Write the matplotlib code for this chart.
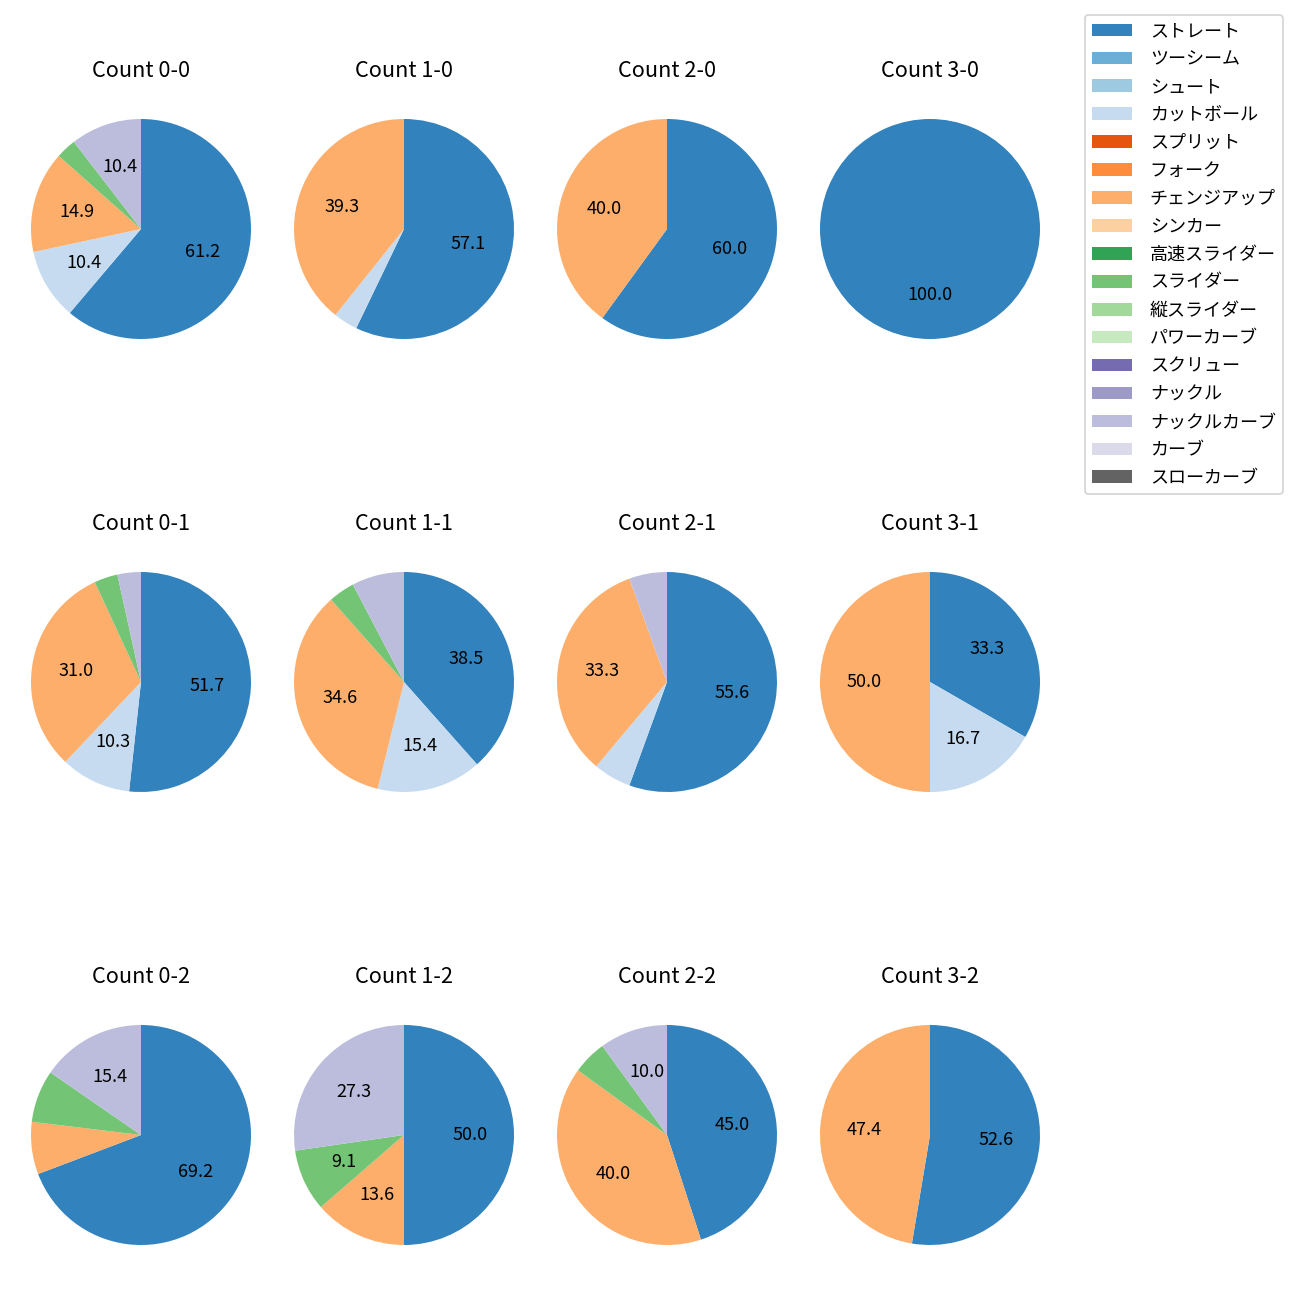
import matplotlib
matplotlib.use("Agg")
import matplotlib.pyplot as plt
from matplotlib.patches import Patch

plt.rcParams['font.family'] = ['Noto Sans CJK JP', 'DejaVu Sans']

# pitch types in legend order (colors follow tab20c)
pitch_types = ["ストレート", "ツーシーム", "シュート", "カットボール", "スプリット", "フォーク",
               "チェンジアップ", "シンカー", "高速スライダー", "スライダー", "縦スライダー",
               "パワーカーブ", "スクリュー", "ナックル", "ナックルカーブ", "カーブ", "スローカーブ"]

# pitch counts per ball-strike count
count_0_0 = {"ストレート": 41, "カットボール": 7, "チェンジアップ": 10, "スライダー": 2, "ナックルカーブ": 7}
count_1_0 = {"ストレート": 16, "カットボール": 1, "チェンジアップ": 11}
count_2_0 = {"ストレート": 3, "チェンジアップ": 2}
count_3_0 = {"ストレート": 1}
count_0_1 = {"ストレート": 15, "カットボール": 3, "チェンジアップ": 9, "スライダー": 1, "ナックルカーブ": 1}
count_1_1 = {"ストレート": 10, "カットボール": 4, "チェンジアップ": 9, "スライダー": 1, "ナックルカーブ": 2}
count_2_1 = {"ストレート": 10, "カットボール": 1, "チェンジアップ": 6, "ナックルカーブ": 1}
count_3_1 = {"ストレート": 2, "カットボール": 1, "チェンジアップ": 3}
count_0_2 = {"ストレート": 9, "チェンジアップ": 1, "スライダー": 1, "ナックルカーブ": 2}
count_1_2 = {"ストレート": 11, "チェンジアップ": 3, "スライダー": 2, "ナックルカーブ": 6}
count_2_2 = {"ストレート": 9, "チェンジアップ": 8, "スライダー": 1, "ナックルカーブ": 2}
count_3_2 = {"ストレート": 10, "チェンジアップ": 9}

grid = [
    [("0-0", count_0_0), ("1-0", count_1_0), ("2-0", count_2_0), ("3-0", count_3_0)],
    [("0-1", count_0_1), ("1-1", count_1_1), ("2-1", count_2_1), ("3-1", count_3_1)],
    [("0-2", count_0_2), ("1-2", count_1_2), ("2-2", count_2_2), ("3-2", count_3_2)],
]

cmap = plt.get_cmap("tab20c")
colors = {name: cmap(i) for i, name in enumerate(pitch_types)}

W = 1300.0
fig = plt.figure(figsize=(10, 10), dpi=130)

size = 275.0
for r, row in enumerate(grid):
    for c, (label, data) in enumerate(row):
        cx = 141 + 263 * c
        cy = 229 + 453 * r
        ax = fig.add_axes([(cx - size / 2) / W, 1 - (cy + size / 2) / W, size / W, size / W])
        names = list(data.keys())
        vals = list(data.values())
        ax.pie(vals, colors=[colors[n] for n in names], startangle=90, counterclock=False,
               autopct=lambda p: f"{p:.1f}" if p >= 8 else "")
        ax.set_title(f"Count {label}", pad=8)

handles = [Patch(facecolor=colors[n], label=n) for n in pitch_types]
fig.legend(handles=handles, loc="upper right", bbox_to_anchor=(1283 / W, 1 - 15 / W),
           borderaxespad=0, fontsize=10, labelspacing=0.55, handlelength=2.2,
           handletextpad=1.0)

fig.savefig("out.png", dpi=130)
